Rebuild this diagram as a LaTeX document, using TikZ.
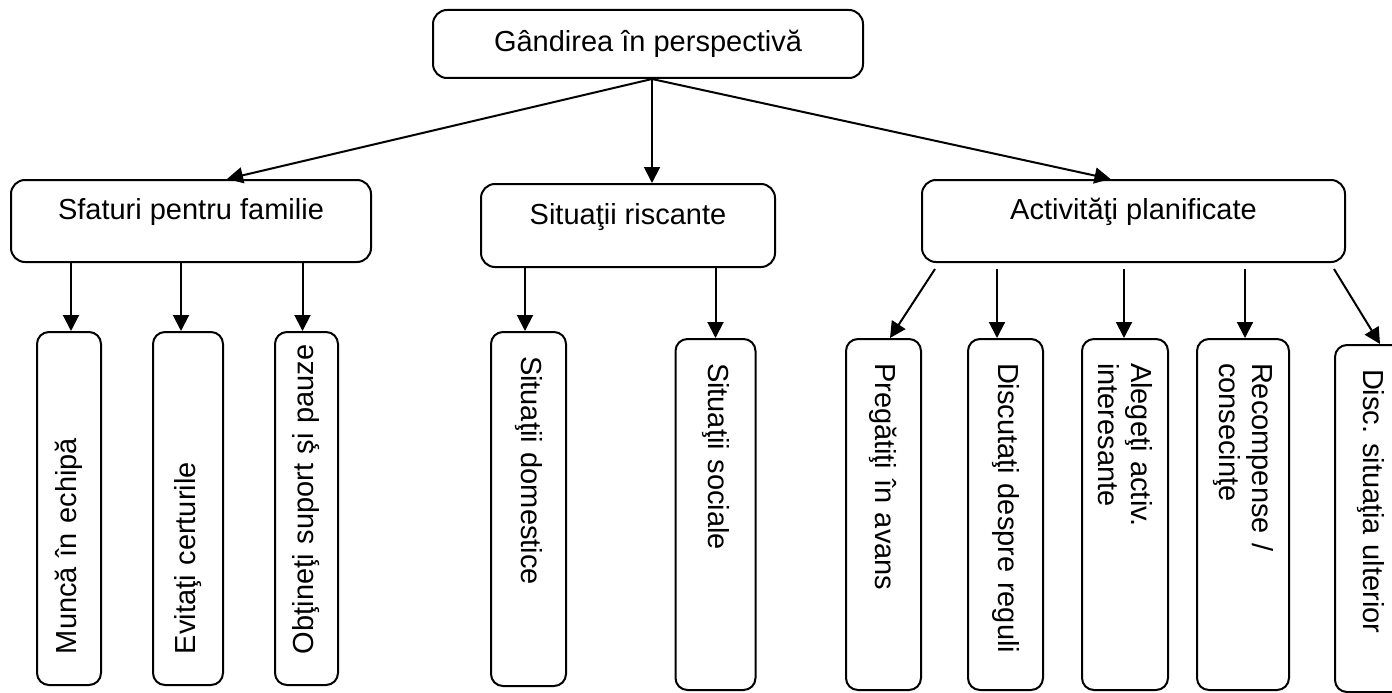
\documentclass[tikz,border=0pt]{standalone}
\usepackage{fontspec}
\setmainfont{Liberation Sans}
\usetikzlibrary{arrows.meta}

\begin{document}
\begin{tikzpicture}[x=1pt, y=-1pt, line width=2pt, font=\fontsize{29}{33}\selectfont\frenchspacing,
		box/.style={draw, rounded corners=14pt, inner sep=0pt},
		mid/.style={box, text depth=24pt},
		leaf/.style={draw, rounded corners=12pt, inner xsep=24pt, inner ysep=0pt, align=left},
		arr/.style={-{Triangle[length=16pt, width=16pt]}}]
	\useasboundingbox (0, 0) rectangle (1392, 693);
	\clip (0, 0) rectangle (1392, 693);
	
	% top box
	\node[box, minimum width=430pt, minimum height=68pt] (root) at (648, 44){Gândirea în perspectivă};
	
	% second row
	\node[mid, minimum width=360pt, minimum height=82pt] (sfat) at (191, 221){Sfaturi pentru familie};
	\node[mid, minimum width=294pt, minimum height=83pt] (risc) at (628, 225.5){Situaţii riscante};
	\node[mid, minimum width=423pt, minimum height=82pt] (activ) at (1133.5, 221){Activităţi planificate};
	
	% leaves, read upwards (top of box = east anchor)
	\foreach \name/\x/\w/\txt in {munca/69/64/Muncă în echipă, evit/188/70/Evitaţi certurile, obt/306.5/63/Obţineţi suport şi pauze}
		\node[leaf, rotate=90, inner xsep=31pt, text width=291pt, minimum height=\w pt] (\name) at (\x, 508.5){\mbox{\txt}};
	
	% leaves, read downwards (top of box = west anchor)
	\node[leaf, rotate=-90, text width=306pt, minimum height=75pt] (dom) at (528.5, 509){Situaţii domestice};
	\node[leaf, rotate=-90, text width=303pt, minimum height=80pt] (soc) at (715.5, 514.5){Situaţii sociale};
	\node[leaf, rotate=-90, text width=303pt, minimum height=75pt] (preg) at (883.5, 514.5){Pregătiţi în avans};
	\node[leaf, rotate=-90, text width=303pt, minimum height=75pt] (discu) at (1005.5, 514.5){Discutaţi despre reguli};
	\node[leaf, rotate=-90, text width=303pt, minimum height=86pt] (aleg) at (1125, 514.5){Alegeţi activ.\\interesante};
	\node[leaf, rotate=-90, text width=303pt, minimum height=92pt] (rec) at (1243, 514.5){Recompense /\\consecinţe};
	% cut by the right edge; text sits left of the box middle
	\node[leaf, rotate=-90, text width=299pt, text height=39pt, minimum height=90pt] (ulter) at (1380, 518.5){Disc. situaţia ulterior};
	
	% root to second row
	\coordinate (fork) at ([xshift=4pt]root.south);
	\draw[arr] (fork) -- ([xshift=36pt]sfat.north);
	\draw[arr] (fork) -- (fork |- risc.north);
	\draw[arr] (fork) -- ([xshift=-23pt]activ.north);
	
	% sfaturi
	\foreach \leaf/\dx in {munca/2, evit/-7, obt/-4}
		\draw[arr] ([xshift=\dx pt]\leaf.east |- sfat.south) -- ([xshift=\dx pt]\leaf.east);
	
	% riscante
	\foreach \leaf/\dx in {dom/-3.5, soc/0}
		\draw[arr] ([xshift=\dx pt]\leaf.west |- risc.south) -- ([xshift=\dx pt]\leaf.west);
	
	% planificate
	\draw[arr] ([xshift=14pt, yshift=-6pt]activ.south west) -- ([xshift=6.5pt]preg.west);
	\foreach \leaf/\dx in {discu/-8.5, aleg/-1, rec/2}
		\draw[arr] ([xshift=\dx pt, yshift=-6pt]\leaf.west |- activ.south) -- ([xshift=\dx pt]\leaf.west);
	\draw[arr] ([xshift=-12pt, yshift=-6pt]activ.south east) -- (ulter.west);
	
\end{tikzpicture}
\end{document}
